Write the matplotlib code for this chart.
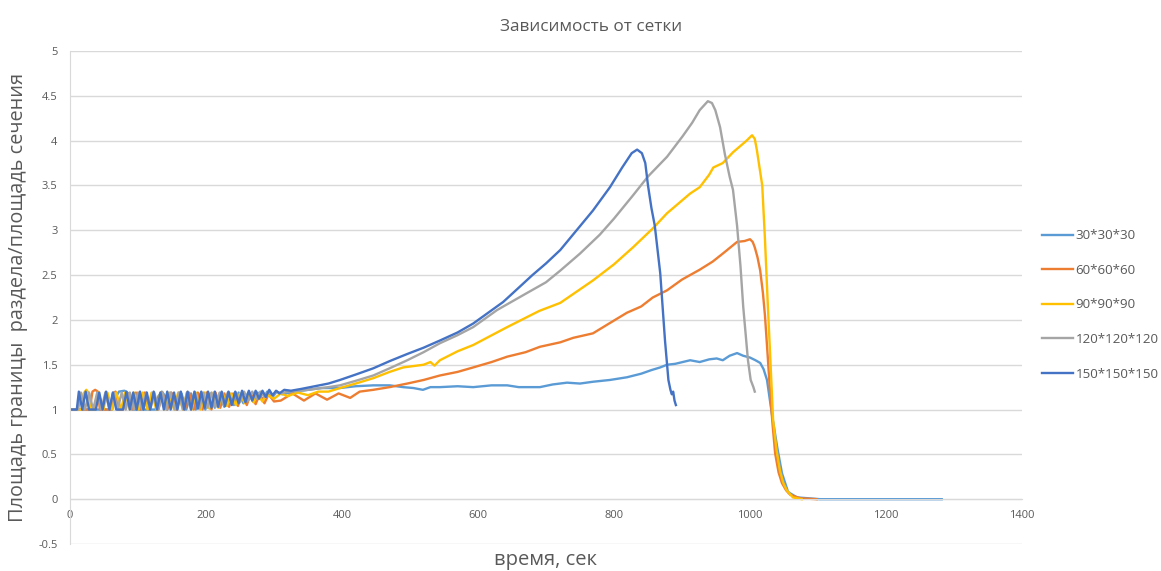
import matplotlib
matplotlib.use('Agg')
import matplotlib.pyplot as plt

plt.rcParams['font.family'] = ['Open Sans', 'DejaVu Sans']

labels = ['30*30*30', '60*60*60', '90*90*90', '120*120*120', '150*150*150']
colors = ['#5B9BD5', '#ED7D31', '#FFC000', '#A5A5A5', '#4472C4']

# 30*30*30
t30 = [0, 62, 66, 72, 80, 88, 92, 126, 130, 135, 140, 143, 150, 157, 164, 171, 178, 185,
       192, 199, 206, 213, 220, 227, 234, 241, 248, 255, 262, 269, 276, 283, 290, 297,
       304, 312, 330, 350, 370, 397, 420, 446, 470, 490, 505, 519, 530, 544, 570, 593,
       620, 643, 660, 691, 710, 731, 750, 769, 794, 819, 840, 855, 868, 878, 890, 912,
       926, 940, 951, 960, 970, 981, 990, 1000, 1008, 1015, 1020, 1025, 1032, 1040,
       1047, 1056, 1069, 1103, 1282]
v30 = [1.0, 1.0, 1.12, 1.2, 1.21, 1.17, 1.0, 1.0, 1.15, 1.2, 1.15, 1.0, 1.18, 1.0, 1.18,
       1.0, 1.18, 1.0, 1.18, 1.0, 1.18, 1.02, 1.18, 1.03, 1.19, 1.05, 1.19, 1.07, 1.19,
       1.09, 1.19, 1.11, 1.2, 1.13, 1.2, 1.17, 1.2, 1.22, 1.24, 1.24, 1.26, 1.27, 1.27,
       1.25, 1.24, 1.22, 1.25, 1.25, 1.26, 1.25, 1.27, 1.27, 1.25, 1.25, 1.28, 1.3, 1.29,
       1.31, 1.33, 1.36, 1.4, 1.44, 1.47, 1.5, 1.51, 1.55, 1.53, 1.56, 1.57, 1.55, 1.6,
       1.63, 1.6, 1.58, 1.55, 1.52, 1.45, 1.33, 0.96, 0.58, 0.29, 0.08, 0.02, 0.0, 0.0]

# 60*60*60
t60 = [0, 28, 30, 33, 37, 41, 44, 60, 63, 67, 71, 78, 84, 91, 97, 104, 110, 117, 123,
       130, 136, 143, 149, 156, 162, 169, 175, 182, 188, 195, 201, 208, 214, 221, 227,
       234, 240, 247, 253, 260, 266, 273, 279, 286, 292, 300, 310, 327, 344, 361, 378,
       395, 412, 426, 446, 470, 496, 520, 544, 570, 593, 620, 643, 670, 691, 721, 740,
       769, 795, 819, 840, 857, 878, 900, 926, 945, 960, 981, 992, 1000, 1004, 1007,
       1011, 1015, 1019, 1022, 1026, 1029, 1033, 1037, 1042, 1047, 1053, 1059, 1074, 1098]
v60 = [1.0, 1.0, 1.05, 1.2, 1.22, 1.2, 1.0, 1.0, 1.18, 1.2, 1.0, 1.0, 1.19, 1.0, 1.19,
       1.0, 1.19, 1.0, 1.19, 1.0, 1.19, 1.0, 1.19, 1.0, 1.19, 1.0, 1.19, 1.0, 1.19, 1.0,
       1.19, 1.0, 1.19, 1.02, 1.18, 1.03, 1.18, 1.04, 1.18, 1.05, 1.18, 1.06, 1.17, 1.07,
       1.17, 1.09, 1.1, 1.18, 1.1, 1.18, 1.11, 1.18, 1.13, 1.2, 1.22, 1.25, 1.29, 1.33,
       1.38, 1.42, 1.47, 1.53, 1.59, 1.64, 1.7, 1.75, 1.8, 1.85, 1.97, 2.08, 2.15, 2.25,
       2.33, 2.45, 2.56, 2.65, 2.74, 2.87, 2.88, 2.9, 2.87, 2.81, 2.7, 2.55, 2.3, 2.05,
       1.6, 1.25, 0.85, 0.51, 0.3, 0.18, 0.1, 0.05, 0.01, 0.0]

# 90*90*90
t90 = [0, 17, 20, 24, 28, 30, 36, 42, 49, 55, 62, 68, 75, 81, 88, 94, 101, 107, 114,
       120, 127, 133, 140, 146, 153, 159, 166, 172, 179, 185, 192, 198, 205, 211, 218,
       224, 231, 237, 244, 250, 257, 263, 270, 276, 283, 289, 300, 310, 320, 335, 350,
       365, 380, 397, 420, 446, 470, 490, 520, 530, 536, 544, 570, 593, 643, 690, 721,
       769, 800, 828, 857, 878, 912, 926, 940, 946, 960, 975, 995, 1003, 1007, 1010,
       1014, 1018, 1022, 1026, 1030, 1034, 1039, 1044, 1049, 1054, 1063, 1076]
v90 = [1.0, 1.0, 1.18, 1.22, 1.18, 1.0, 1.0, 1.19, 1.0, 1.19, 1.0, 1.19, 1.0, 1.19, 1.0,
       1.19, 1.0, 1.19, 1.0, 1.19, 1.0, 1.19, 1.0, 1.19, 1.0, 1.19, 1.0, 1.19, 1.0, 1.19,
       1.0, 1.19, 1.01, 1.19, 1.02, 1.19, 1.04, 1.18, 1.05, 1.18, 1.07, 1.18, 1.08, 1.17,
       1.09, 1.17, 1.12, 1.18, 1.15, 1.19, 1.16, 1.2, 1.2, 1.24, 1.29, 1.35, 1.42, 1.47,
       1.5, 1.53, 1.49, 1.55, 1.65, 1.72, 1.92, 2.1, 2.19, 2.44, 2.62, 2.81, 3.02, 3.19,
       3.41, 3.48, 3.62, 3.7, 3.75, 3.87, 4.0, 4.06, 4.02, 3.9, 3.7, 3.5, 2.9, 2.2, 1.55,
       0.88, 0.55, 0.32, 0.18, 0.1, 0.02, 0.0]

# 120*120*120
t120 = [0, 12, 16, 22, 28, 34, 40, 46, 52, 58, 64, 70, 76, 82, 88, 94, 100, 106, 112,
        118, 124, 130, 136, 142, 148, 154, 160, 166, 172, 178, 184, 190, 196, 202, 208,
        214, 220, 226, 232, 238, 244, 250, 256, 262, 268, 274, 280, 286, 292, 298, 304,
        310, 320, 340, 360, 380, 397, 420, 446, 470, 496, 520, 544, 570, 593, 628, 672,
        700, 721, 750, 779, 800, 828, 850, 878, 901, 915, 926, 938, 944, 949, 956, 963,
        970, 975, 981, 986, 990, 997, 1001, 1003, 1005, 1007]
v120 = [1.0, 1.0, 1.19, 1.0, 1.19, 1.0, 1.19, 1.0, 1.19, 1.0, 1.19, 1.0, 1.19, 1.0,
        1.19, 1.0, 1.19, 1.0, 1.19, 1.0, 1.19, 1.0, 1.19, 1.0, 1.19, 1.0, 1.19, 1.0, 1.19,
        1.0, 1.19, 1.01, 1.19, 1.02, 1.19, 1.03, 1.19, 1.05, 1.19, 1.06, 1.19, 1.08, 1.2,
        1.1, 1.2, 1.12, 1.2, 1.14, 1.2, 1.16, 1.2, 1.18, 1.2, 1.21, 1.23, 1.25, 1.27, 1.32,
        1.38, 1.46, 1.55, 1.64, 1.74, 1.83, 1.92, 2.11, 2.3, 2.42, 2.55, 2.74, 2.95, 3.13,
        3.39, 3.6, 3.82, 4.05, 4.2, 4.34, 4.44, 4.42, 4.34, 4.15, 3.85, 3.6, 3.45, 3.05,
        2.6, 2.15, 1.55, 1.33, 1.29, 1.25, 1.2]

# 150*150*150
t150 = [0, 10, 13, 18, 23, 28, 33, 38, 43, 48, 53, 58, 63, 68, 73, 78, 83, 88, 93, 98,
        103, 108, 113, 118, 123, 128, 133, 138, 143, 148, 153, 158, 163, 168, 173, 178,
        183, 188, 193, 198, 203, 208, 213, 218, 223, 228, 233, 238, 243, 248, 253, 258,
        263, 268, 273, 278, 283, 288, 293, 298, 303, 308, 315, 325, 340, 360, 380, 397,
        420, 446, 470, 496, 520, 544, 570, 593, 615, 637, 660, 680, 700, 721, 745, 769,
        794, 812, 826, 834, 841, 846, 850, 855, 860, 868, 875, 880, 883, 885, 887, 889, 891]
v150 = [1.0, 1.0, 1.2, 1.0, 1.2, 1.0, 1.0, 1.0, 1.19, 1.0, 1.2, 1.0, 1.19, 1.0, 1.0,
        1.0, 1.2, 1.0, 1.19, 1.0, 1.2, 1.0, 1.19, 1.0, 1.2, 1.0, 1.19, 1.0, 1.2, 1.0,
        1.19, 1.0, 1.2, 1.0, 1.2, 1.0, 1.2, 1.01, 1.2, 1.02, 1.2, 1.02, 1.2, 1.03, 1.2,
        1.04, 1.2, 1.05, 1.2, 1.07, 1.21, 1.08, 1.21, 1.1, 1.21, 1.12, 1.21, 1.14, 1.22,
        1.16, 1.21, 1.18, 1.22, 1.21, 1.23, 1.26, 1.29, 1.33, 1.39, 1.46, 1.54, 1.62, 1.69,
        1.77, 1.86, 1.96, 2.08, 2.2, 2.36, 2.5, 2.63, 2.78, 3.0, 3.22, 3.48, 3.7, 3.86,
        3.9, 3.86, 3.75, 3.5, 3.25, 3.05, 2.52, 1.77, 1.33, 1.22, 1.17, 1.2, 1.1, 1.05]

times = [t30, t60, t90, t120, t150]
values = [v30, v60, v90, v120, v150]

y_ticks = [-0.5, 0, 0.5, 1, 1.5, 2, 2.5, 3, 3.5, 4, 4.5, 5]
y_tick_labels = ['-0.5', '0', '0.5', '1', '1.5', '2', '2.5', '3', '3.5', '4', '4.5', '5']
x_ticks = [0, 200, 400, 600, 800, 1000, 1200, 1400]

fig = plt.figure(figsize=(11.61, 5.71), dpi=100)
ax = fig.add_axes([70 / 1161, 1 - 544 / 571, 952 / 1161, 493 / 571])

for t, v, lab, c in zip(times, values, labels, colors):
    ax.plot(t, v, color=c, lw=1.7, label=lab, solid_joinstyle='round')

ax.set_xlim(0, 1400)
ax.set_ylim(-0.5, 5)
ax.set_yticks(y_ticks)
ax.set_yticklabels(y_tick_labels)
ax.set_xticks(x_ticks)
ax.grid(axis='y', color='#D9D9D9', lw=1.0)
ax.set_axisbelow(True)

for s in ['top', 'right']:
    ax.spines[s].set_visible(False)
ax.spines['left'].set_color('#D9D9D9')
ax.spines['bottom'].set_color('#D9D9D9')
ax.spines['bottom'].set_position(('data', 0))
ax.tick_params(axis='both', length=0, labelsize=8, labelcolor='#595959')
ax.tick_params(axis='y', pad=9)
ax.tick_params(axis='x', pad=8)

fig.text(591 / 1161, 1 - 27 / 571, 'Зависимость от сетки', ha='center', va='center',
         fontsize=12.3, color='#595959')
fig.text(18 / 1161, 1 - 297 / 571, 'Площадь границы  раздела/площадь сечения',
         ha='center', va='center', rotation=90, fontsize=14.3, color='#595959')
fig.text(546 / 1161, 1 - 560 / 571, 'время, сек', ha='center', va='center',
         fontsize=14.5, color='#595959')

ax.legend(loc='center left', bbox_to_anchor=(1030 / 1161, 1 - 305 / 571),
          bbox_transform=fig.transFigure, frameon=False, fontsize=9.6,
          handlelength=2.3, handletextpad=0.2, labelspacing=1.62, labelcolor='#595959')

fig.savefig('out.png', dpi=100)
